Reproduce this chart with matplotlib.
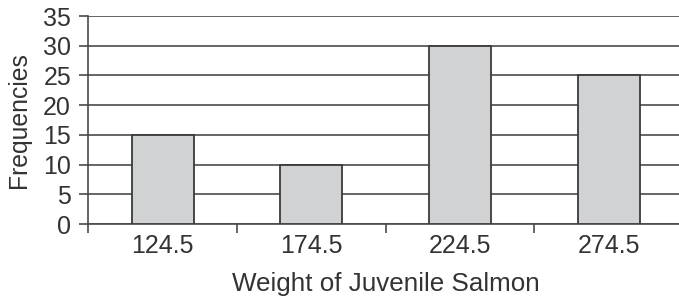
import matplotlib
matplotlib.use("Agg")
import matplotlib.pyplot as plt

categories = ["124.5", "174.5", "224.5", "274.5"]
frequencies = [15, 10, 30, 25]
y_ticks = [0, 5, 10, 15, 20, 25, 30, 35]

plt.rcParams['font.family'] = ['Liberation Sans', 'DejaVu Sans']

text_color = '#333333'
line_color = '#4a4a4a'

fig = plt.figure(figsize=(6.79, 2.98), dpi=100)
ax = fig.add_axes([0.1303, 0.2483, 0.8756, 0.698])

positions = list(range(len(categories)))
ax.bar(positions, frequencies, width=0.417, color='#d1d2d4',
       edgecolor='#3a3a3a', linewidth=1.3, zorder=3)

ax.set_xlim(-0.5, len(categories) - 0.5)
ax.set_ylim(0, 35)

# tick marks sit between the bars, labels sit under them
ax.set_xticks([p - 0.5 for p in positions] + [len(categories) - 0.5])
ax.set_xticklabels([])
ax.set_xticks(positions, minor=True)
ax.set_xticklabels(categories, minor=True)
ax.tick_params(axis='x', which='major', length=6.5, width=1.2,
               color=line_color, direction='out')
ax.tick_params(axis='x', which='minor', length=0, pad=7.5,
               labelsize=18, labelcolor=text_color)

ax.set_yticks(y_ticks)
ax.tick_params(axis='y', length=6.5, width=1.2, color=line_color,
               pad=6, labelsize=18, labelcolor=text_color)

ax.grid(axis='y', color=line_color, linewidth=1.2, zorder=0)
ax.set_axisbelow(True)

for side in ['top', 'right']:
    ax.spines[side].set_visible(False)
for side in ['left', 'bottom']:
    ax.spines[side].set_color(line_color)
    ax.spines[side].set_linewidth(1.2)

ax.set_xlabel('Weight of Juvenile Salmon', fontsize=18.7,
              color=text_color, labelpad=10)
ax.set_ylabel('Frequencies', fontsize=17.8, color=text_color, labelpad=9)

fig.savefig('out.png', dpi=100)
